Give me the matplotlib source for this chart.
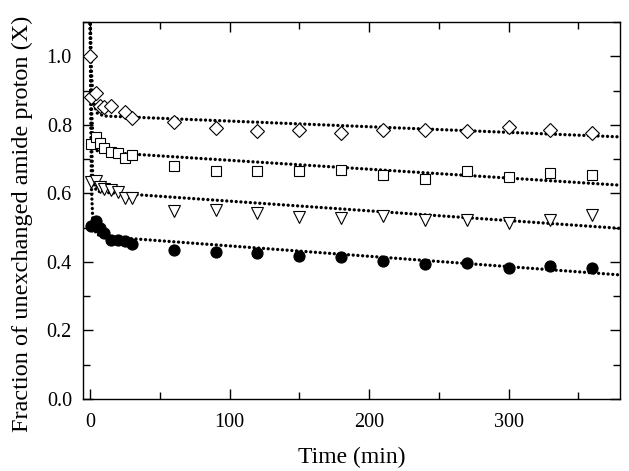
import matplotlib.pyplot as plt
from matplotlib.ticker import MultipleLocator

plt.rcParams['font.family'] = ['Liberation Serif', 'DejaVu Serif']

# measured points (time in min, fraction X)
t_diamond = [0, 1, 4, 7, 10, 15, 25, 30, 60, 90, 120, 150, 180, 210, 240, 270, 300, 330, 360]
x_diamond = [1.0, 0.881, 0.893, 0.856, 0.852, 0.854, 0.839, 0.821, 0.808, 0.791, 0.782, 0.784,
             0.775, 0.786, 0.784, 0.782, 0.794, 0.786, 0.775]

t_square = [1, 4, 7, 10, 15, 20, 25, 30, 60, 90, 120, 150, 180, 210, 240, 270, 300, 330, 360]
x_square = [0.743, 0.765, 0.748, 0.734, 0.720, 0.717, 0.704, 0.712, 0.679, 0.665, 0.665, 0.665,
            0.668, 0.653, 0.641, 0.665, 0.648, 0.660, 0.653]

t_tri = [1, 4, 7, 10, 15, 20, 25, 30, 60, 90, 120, 150, 180, 210, 240, 270, 300, 330, 360]
x_tri = [0.634, 0.636, 0.619, 0.612, 0.610, 0.603, 0.588, 0.588, 0.549, 0.553, 0.543, 0.530,
         0.528, 0.534, 0.522, 0.522, 0.514, 0.522, 0.536]

t_circ = [1, 4, 7, 10, 15, 20, 25, 30, 60, 90, 120, 150, 180, 210, 240, 270, 300, 330, 360]
x_circ = [0.505, 0.520, 0.500, 0.483, 0.465, 0.463, 0.460, 0.452, 0.434, 0.430, 0.425, 0.418,
          0.415, 0.403, 0.393, 0.396, 0.381, 0.389, 0.381]

# fitted curves
fit_t = [0, 1, 2, 3, 5, 10, 380]
fit_diamond = [1.15, 0.96, 0.89, 0.86, 0.835, 0.826, 0.765]
fit_square = [1.15, 0.86, 0.77, 0.74, 0.725, 0.720, 0.624]
fit_tri = [1.15, 0.76, 0.65, 0.62, 0.607, 0.603, 0.498]
fit_circ = [1.15, 0.62, 0.52, 0.495, 0.480, 0.474, 0.362]

fig = plt.figure(figsize=(6.29, 4.71), dpi=100)
ax = fig.add_axes([0.132, 0.153, 0.854, 0.800])

dot = dict(color='black', linewidth=2.4, linestyle=(0, (0.01, 1.41)),
           dash_capstyle='round', zorder=2)
for fy in [fit_diamond, fit_square, fit_tri, fit_circ]:
    ax.plot(fit_t, fy, **dot)

mk = dict(linestyle='none', markeredgecolor='black', markeredgewidth=0.8, zorder=3)
ax.plot(t_diamond, x_diamond, marker='D', markersize=7.5, markerfacecolor='white', **mk)
ax.plot(t_square, x_square, marker='s', markersize=7, markerfacecolor='white', **mk)
ax.plot(t_tri, x_tri, marker='v', markersize=8.5, markerfacecolor='white', **mk)
ax.plot(t_circ, x_circ, marker='o', markersize=8, markerfacecolor='black', **mk)

ax.set_xlim(-5, 380)
ax.set_ylim(0, 1.1)
ax.xaxis.set_major_locator(MultipleLocator(100))
ax.xaxis.set_minor_locator(MultipleLocator(50))
ax.yaxis.set_major_locator(MultipleLocator(0.2))
ax.yaxis.set_minor_locator(MultipleLocator(0.1))
ax.yaxis.set_major_formatter(plt.FuncFormatter(lambda v, p: f'{v:.1f}'))
ax.tick_params(which='both', direction='in', top=True, right=True, labelsize=14.5)
ax.tick_params(axis='y', which='both', pad=8)
ax.tick_params(axis='x', which='both', pad=10)
ax.tick_params(which='major', length=7, width=1)
ax.tick_params(which='minor', length=5, width=1)
for s in ax.spines.values():
    s.set_linewidth(1.0)

ax.set_xlabel('Time (min)', fontsize=17, labelpad=11)
ax.set_ylabel('Fraction of unexchanged amide proton (X)', fontsize=17.5,
              va='center')
ax.yaxis.set_label_coords(-0.113, 0.466)

fig.savefig('out.png', dpi=100)
